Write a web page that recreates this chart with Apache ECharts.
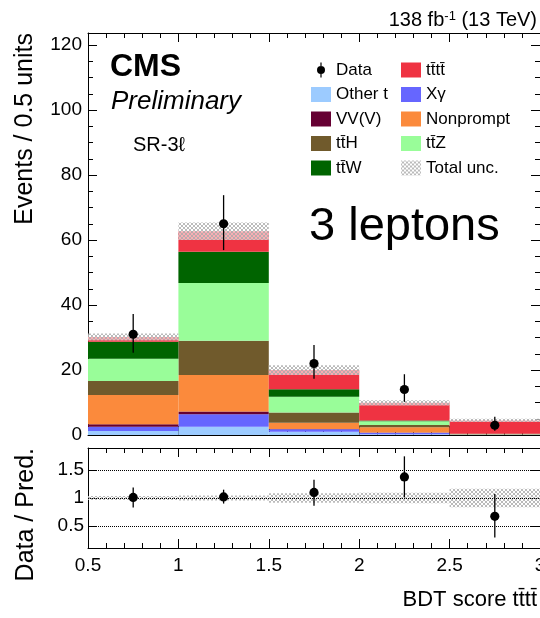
<!DOCTYPE html>
<html lang="en">
<head>
<meta charset="UTF-8" />
<script src="https://cdn.jsdelivr.net/npm/echarts@6.0.0/dist/echarts.min.js"></script>
<title>SR-3l BDT score</title>
<style>
  html, body { margin: 0; padding: 0; background: #fff; }
  #container { width: 540px; height: 618px; }
</style>
</head>
<body>
<div id="container"></div>
<script>
// bins of the BDT score (0.5 wide)
const bins = ['0.5-1', '1-1.5', '1.5-2', '2-2.5', '2.5-3'];
const yTicks = [0, 20, 40, 60, 80, 100, 120];
const ratioTicks = [0.5, 1, 1.5];

// stacked backgrounds, bottom to top
const otherT = [1.2, 2.55, 1.0, 0.2, 0.03];
const xGamma = [1.35, 3.85, 0.75, 0.5, 0.02];
const vvv = [0.75, 0.8, 0.1, 0.1, 0.01];
const nonprompt = [9.0, 11.3, 1.95, 1.6, 0.1];
const ttH = [4.3, 10.5, 3.1, 0.7, 0.08];
const ttZ = [6.9, 17.8, 4.9, 1.1, 0.08];
const ttW = [5.2, 9.6, 2.3, 0.3, 0.03];
const tttt = [1.45, 6.3, 5.9, 5.4, 4.15];

// total uncertainty band (main panel)
const uncLo = [29.05, 60.0, 18.5, 9.1, 4.0];
const uncHi = [31.25, 65.4, 21.5, 10.7, 5.0];

// observed data
const dataVal = [31, 65, 22, 14, 3];
const dataLo = [25.3, 56.9, 17.3, 10.2, 1.3];
const dataHi = [37.2, 73.8, 27.7, 18.7, 5.6];

// ratio panel
const ratioVal = [1.01, 1.02, 1.10, 1.38, 0.67];
const ratioLo = [0.83, 0.90, 0.86, 1.01, 0.29];
const ratioHi = [1.19, 1.15, 1.33, 1.75, 1.07];
const ratioUncLo = [0.965, 0.955, 0.915, 0.905, 0.835];
const ratioUncHi = [1.035, 1.045, 1.085, 1.095, 1.165];

const FONT = 'Liberation Sans, Arial, Helvetica, sans-serif';

// light grey cross hatch like ROOT fill style 3013
function makeHatch() {
  const c = document.createElement('canvas');
  c.width = 4; c.height = 4;
  const ctx = c.getContext('2d');
  ctx.fillStyle = 'rgba(255,255,255,0.6)';
  ctx.fillRect(0, 0, 4, 4);
  ctx.fillStyle = 'rgba(170,170,170,0.8)';
  for (let i = 0; i < 4; i++) {
    ctx.fillRect(i, i, 1, 1);
    ctx.fillRect(3 - i, i, 1, 1);
  }
  return c;
}
const hatch = { image: makeHatch(), repeat: 'repeat' };

const chart = echarts.init(document.getElementById('container'), null, { renderer: 'canvas' });

function bandItem(params, api) {
  const i = api.value(0);
  const lo = api.coord([i, api.value(1)]);
  const hi = api.coord([i, api.value(2)]);
  const w = api.size([1, 0])[0];
  return {
    type: 'rect',
    shape: { x: lo[0] - w / 2, y: hi[1], width: w, height: lo[1] - hi[1] },
    style: { fill: hatch }
  };
}

function pointItem(params, api) {
  const i = api.value(0);
  const p = api.coord([i, api.value(1)]);
  const lo = api.coord([i, api.value(2)]);
  const hi = api.coord([i, api.value(3)]);
  return {
    type: 'group',
    children: [
      { type: 'line', shape: { x1: p[0], y1: lo[1], x2: p[0], y2: hi[1] }, style: { stroke: '#000', lineWidth: 1.3 } },
      { type: 'circle', shape: { cx: p[0], cy: p[1], r: 4.6 }, style: { fill: '#000' } }
    ]
  };
}

const tickStyle = {
  axisLine: { show: true, onZero: false, lineStyle: { color: '#000', width: 1 } },
  axisTick: { show: true, inside: true, length: 9, lineStyle: { color: '#000', width: 1 } },
  splitLine: { show: false }
};

function xVal(grid, pos, showLabel) {
  return Object.assign({
    type: 'value', gridIndex: grid, position: pos, min: 0.5, max: 3, interval: 0.5,
    axisLabel: { show: showLabel, color: '#000', fontSize: 19, fontFamily: FONT, margin: 8 },
    minorTick: { show: true, splitNumber: 5, length: 5, lineStyle: { color: '#000', width: 1 } }
  }, tickStyle);
}

function yMain(pos, showLabel) {
  return Object.assign({
    type: 'value', gridIndex: 0, position: pos, min: 0, max: 123.7, interval: 20,
    axisLabel: { show: showLabel, color: '#000', fontSize: 19, fontFamily: FONT, margin: 6, customValues: yTicks },
    minorTick: { show: true, splitNumber: 4, length: 5, lineStyle: { color: '#000', width: 1 } }
  }, tickStyle);
}

function yRatio(pos, showLabel) {
  const a = Object.assign({
    type: 'value', gridIndex: 1, position: pos, min: 0.1, max: 1.9,
    axisLabel: { show: showLabel, color: '#000', fontSize: 19, fontFamily: FONT, margin: 4, customValues: ratioTicks }
  }, tickStyle);
  a.axisTick = Object.assign({}, tickStyle.axisTick, { customValues: ratioTicks });
  return a;
}

function stackBar(name, values, color) {
  return {
    name: name, type: 'bar', stack: 'bkg', xAxisIndex: 2, yAxisIndex: 0,
    barWidth: '100%', barCategoryGap: 0,
    itemStyle: { color: color }, data: values, silent: true
  };
}

const dataIcon = 'path://M9.4,0 H10.6 V15 H9.4 Z M10,3.5 A4,4 0 1 1 10,11.5 A4,4 0 1 1 10,3.5 Z';
const legendText = { fontSize: 17, color: '#000', fontFamily: FONT, lineHeight: 17 };

const option = {
  animation: false,
  textStyle: { fontFamily: FONT },
  grid: [
    { left: 88, right: 0, top: 33, height: 402, outerBoundsMode: 'none', containLabel: false },
    { left: 88, right: 0, top: 448, height: 100, outerBoundsMode: 'none', containLabel: false }
  ],
  xAxis: [
    xVal(0, 'bottom', false),
    xVal(0, 'top', false),
    { type: 'category', gridIndex: 0, data: bins, show: false },
    xVal(1, 'bottom', true),
    xVal(1, 'top', false),
    { type: 'category', gridIndex: 1, data: bins, show: false }
  ],
  yAxis: [
    yMain('left', true),
    yMain('right', false),
    yRatio('left', true),
    yRatio('right', false)
  ],
  legend: [
    {
      left: 306, top: 56.5, orient: 'vertical', itemWidth: 20, itemHeight: 15, itemGap: 7.5,
      icon: 'rect', selectedMode: false, textStyle: legendText,
      data: [{ name: 'Data', icon: dataIcon, itemStyle: { color: '#000' } }, 'Other t', 'VV(V)', 'tt\u0304H', 'tt\u0304W']
    },
    {
      left: 396, top: 56.5, orient: 'vertical', itemWidth: 20, itemHeight: 15, itemGap: 7.5,
      icon: 'rect', selectedMode: false, textStyle: legendText,
      data: ['tt\u0304tt\u0304', 'X\u03b3', 'Nonprompt', 'tt\u0304Z', { name: 'Total unc.', itemStyle: { color: hatch } }]
    }
  ],
  series: [
    stackBar('Other t', otherT, '#9ccbff'),
    stackBar('X\u03b3', xGamma, '#6666ff'),
    stackBar('VV(V)', vvv, '#660033'),
    stackBar('Nonprompt', nonprompt, '#fb8a3c'),
    stackBar('tt\u0304H', ttH, '#705a2c'),
    stackBar('tt\u0304Z', ttZ, '#99fd99'),
    stackBar('tt\u0304W', ttW, '#006400'),
    stackBar('tt\u0304tt\u0304', tttt, '#ef3342'),
    {
      name: 'Total unc.', type: 'custom', xAxisIndex: 2, yAxisIndex: 0, z: 3, silent: true,
      itemStyle: { color: '#cccccc' },
      renderItem: bandItem,
      data: bins.map((b, i) => [i, uncLo[i], uncHi[i]])
    },
    {
      name: 'Data', type: 'custom', xAxisIndex: 2, yAxisIndex: 0, z: 5, silent: true,
      itemStyle: { color: '#000' },
      renderItem: pointItem,
      data: bins.map((b, i) => [i, dataVal[i], dataLo[i], dataHi[i]])
    },
    {
      name: 'ratio unc', type: 'custom', xAxisIndex: 5, yAxisIndex: 2, z: 3, silent: true,
      renderItem: bandItem,
      data: bins.map((b, i) => [i, ratioUncLo[i], ratioUncHi[i]]),
      markLine: {
        silent: true, symbol: 'none', label: { show: false },
        lineStyle: { type: 'dotted', color: '#000', width: 1 },
        data: ratioTicks.map(v => ({ yAxis: v }))
      }
    },
    {
      name: 'ratio', type: 'custom', xAxisIndex: 5, yAxisIndex: 2, z: 5, silent: true,
      renderItem: pointItem,
      data: bins.map((b, i) => [i, ratioVal[i], ratioLo[i], ratioHi[i]])
    }
  ],
  graphic: [
    {
      type: 'text', x: 537, y: 20, z: 10,
      style: {
        text: '138 fb{sup|-1} (13 TeV)', align: 'right', verticalAlign: 'middle',
        fontSize: 20, fontFamily: FONT, fill: '#000',
        rich: { sup: { fontSize: 13, verticalAlign: 'top', fontFamily: FONT, fill: '#000' } }
      }
    },
    { type: 'text', x: 110, y: 67, z: 10, style: { text: 'CMS', fontSize: 32, fontWeight: 'bold', fontFamily: FONT, fill: '#000', verticalAlign: 'middle' } },
    { type: 'text', x: 111, y: 102, z: 10, style: { text: 'Preliminary', fontSize: 26, fontStyle: 'italic', fontFamily: FONT, fill: '#000', verticalAlign: 'middle' } },
    { type: 'text', x: 133, y: 145, z: 10, style: { text: 'SR-3\u2113', fontSize: 20, fontFamily: FONT, fill: '#000', verticalAlign: 'middle' } },
    { type: 'text', x: 309, y: 227, z: 10, style: { text: '3 leptons', fontSize: 47, fontFamily: FONT, fill: '#000', verticalAlign: 'middle' } },
    { type: 'text', x: 537, y: 600, z: 10, style: { text: 'BDT score tt\u0304tt\u0304', fontSize: 22, fontFamily: FONT, fill: '#000', align: 'right', verticalAlign: 'middle' } },
    { type: 'text', x: 25, y: 33, rotation: Math.PI / 2, z: 10, style: { text: 'Events / 0.5 units', fontSize: 25, fontFamily: FONT, fill: '#000', align: 'right', verticalAlign: 'middle' } },
    { type: 'text', x: 26, y: 448, rotation: Math.PI / 2, z: 10, style: { text: 'Data / Pred.', fontSize: 25, fontFamily: FONT, fill: '#000', align: 'right', verticalAlign: 'middle' } }
  ]
};

chart.setOption(option);
</script>
</body>
</html>
